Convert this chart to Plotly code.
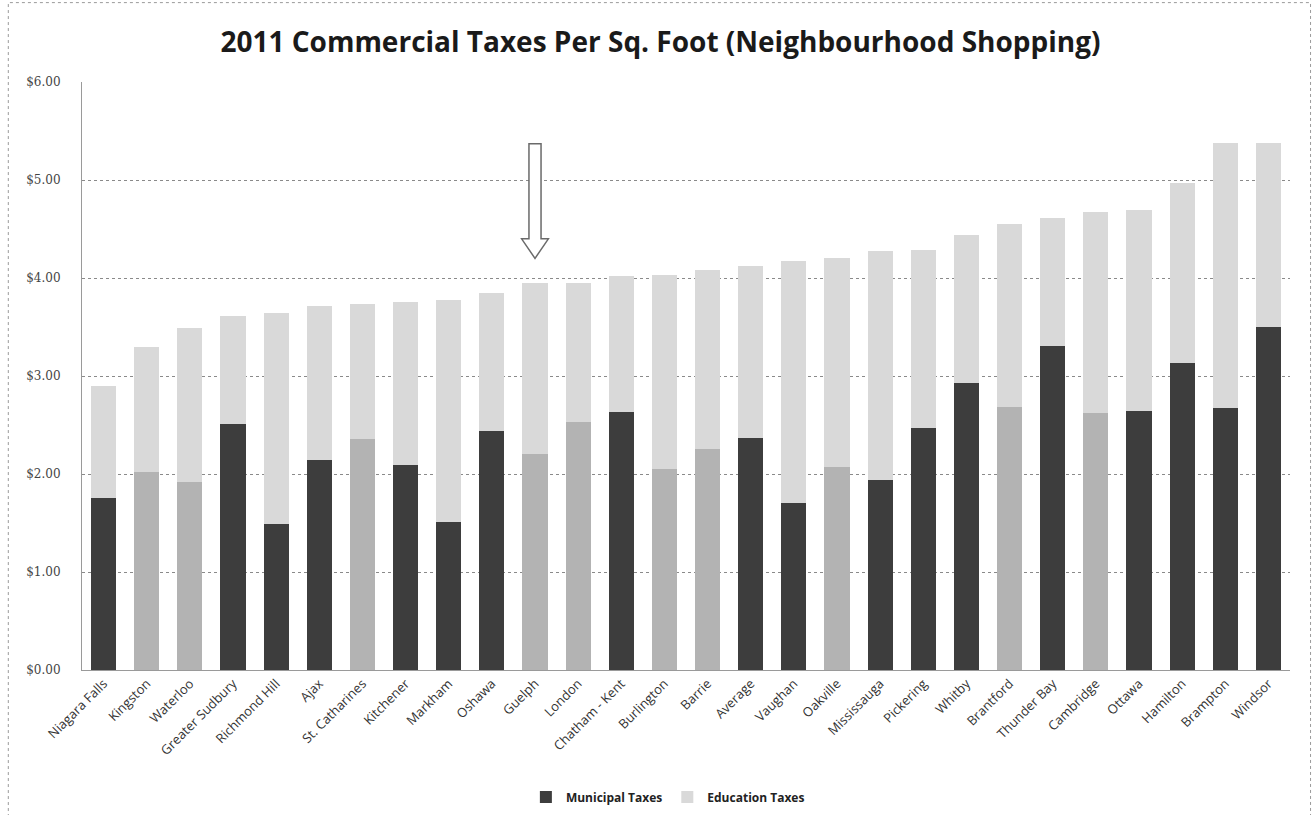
import plotly.graph_objects as go

# 2011 commercial taxes per square foot, neighbourhood shopping centres
cities = [
    "Niagara Falls", "Kingston", "Waterloo", "Greater Sudbury", "Richmond Hill",
    "Ajax", "St. Catharines", "Kitchener", "Markham", "Oshawa", "Guelph",
    "London", "Chatham - Kent", "Burlington", "Barrie", "Average", "Vaughan",
    "Oakville", "Mississauga", "Pickering", "Whitby", "Brantford",
    "Thunder Bay", "Cambridge", "Ottawa", "Hamilton", "Brampton", "Windsor",
]
municipal = [
    1.76, 2.02, 1.92, 2.51, 1.49, 2.14, 2.36, 2.09, 1.51, 2.44, 2.20,
    2.53, 2.63, 2.05, 2.26, 2.37, 1.70, 2.07, 1.94, 2.47, 2.93, 2.68,
    3.31, 2.62, 2.64, 3.13, 2.67, 3.50,
]
education = [
    1.14, 1.28, 1.57, 1.10, 2.15, 1.57, 1.37, 1.67, 2.27, 1.41, 1.75,
    1.42, 1.39, 1.98, 1.82, 1.75, 2.47, 2.13, 2.34, 1.82, 1.51, 1.87,
    1.30, 2.05, 2.05, 1.84, 2.71, 1.88,
]
# cities whose municipal portion prints in the lighter tone
light_municipal = {"Kingston", "Waterloo", "St. Catharines", "Guelph", "London",
                   "Burlington", "Barrie", "Oakville", "Brantford", "Cambridge"}
highlight_city = "Guelph"

DARK = "#3d3d3d"
MID = "#b3b3b3"
LIGHT = "#d9d9d9"
mun_colors = [MID if c in light_municipal else DARK for c in cities]

fig = go.Figure()
fig.add_trace(go.Bar(
    x=cities, y=municipal, name="Municipal Taxes",
    marker=dict(color=mun_colors, line=dict(width=0)),
))
fig.add_trace(go.Bar(
    x=cities, y=education, name="Education Taxes",
    marker=dict(color=LIGHT, line=dict(width=0)),
))

# hollow arrow pointing down at the highlighted city
hi = cities.index(highlight_city)
fig.add_shape(
    type="path", xref="x", yref="y",
    path=(f"M {hi-0.14},5.37 L {hi+0.14},5.37 L {hi+0.14},4.40 L {hi+0.31},4.40 "
          f"L {hi},4.20 L {hi-0.31},4.40 L {hi-0.14},4.40 Z"),
    line=dict(color="#6a6a6a", width=1.5), fillcolor="white",
)

# dotted outer chart border
fig.add_shape(
    type="rect", xref="paper", yref="paper",
    x0=-0.061, x1=1.017, y0=-0.27, y1=1.135,
    line=dict(color="#9a9a9a", width=1, dash="dot"),
)

fig.update_layout(
    width=1313, height=815,
    margin=dict(l=82, r=23, t=82, b=145, autoexpand=False),
    paper_bgcolor="white", plot_bgcolor="white",
    barmode="stack", bargap=0.42,
    title=dict(
        text="2011 Commercial Taxes Per Sq. Foot (Neighbourhood Shopping)",
        x=0.503, xref="container", xanchor="center", y=0.948, yanchor="middle",
        font=dict(family="Open Sans", size=28, color="#1a1a1a", weight="bold"),
    ),
    font=dict(family="Open Sans", color="#333333"),
    legend=dict(
        orientation="h", x=0.485, xanchor="center", y=-0.216, yanchor="middle",
        font=dict(size=12, color="#222222", weight="bold"),
        itemwidth=30, traceorder="normal",
    ),
    showlegend=True,
)
fig.update_yaxes(
    range=[0, 6], dtick=1, tickformat="$.2f",
    showgrid=True, gridcolor="#8a8a8a", griddash="dot", gridwidth=1,
    showline=True, linecolor="#9a9a9a", linewidth=1,
    zeroline=False, ticks="", ticklabelstandoff=18,
    tickfont=dict(family="DejaVu Serif", size=12, color="#444444"),
)
fig.update_xaxes(
    tickangle=-45, showline=True, linecolor="#9a9a9a", ticks="",
    tickfont=dict(family="Open Sans", size=13, color="#333333"),
)

fig.write_html("out.html")
